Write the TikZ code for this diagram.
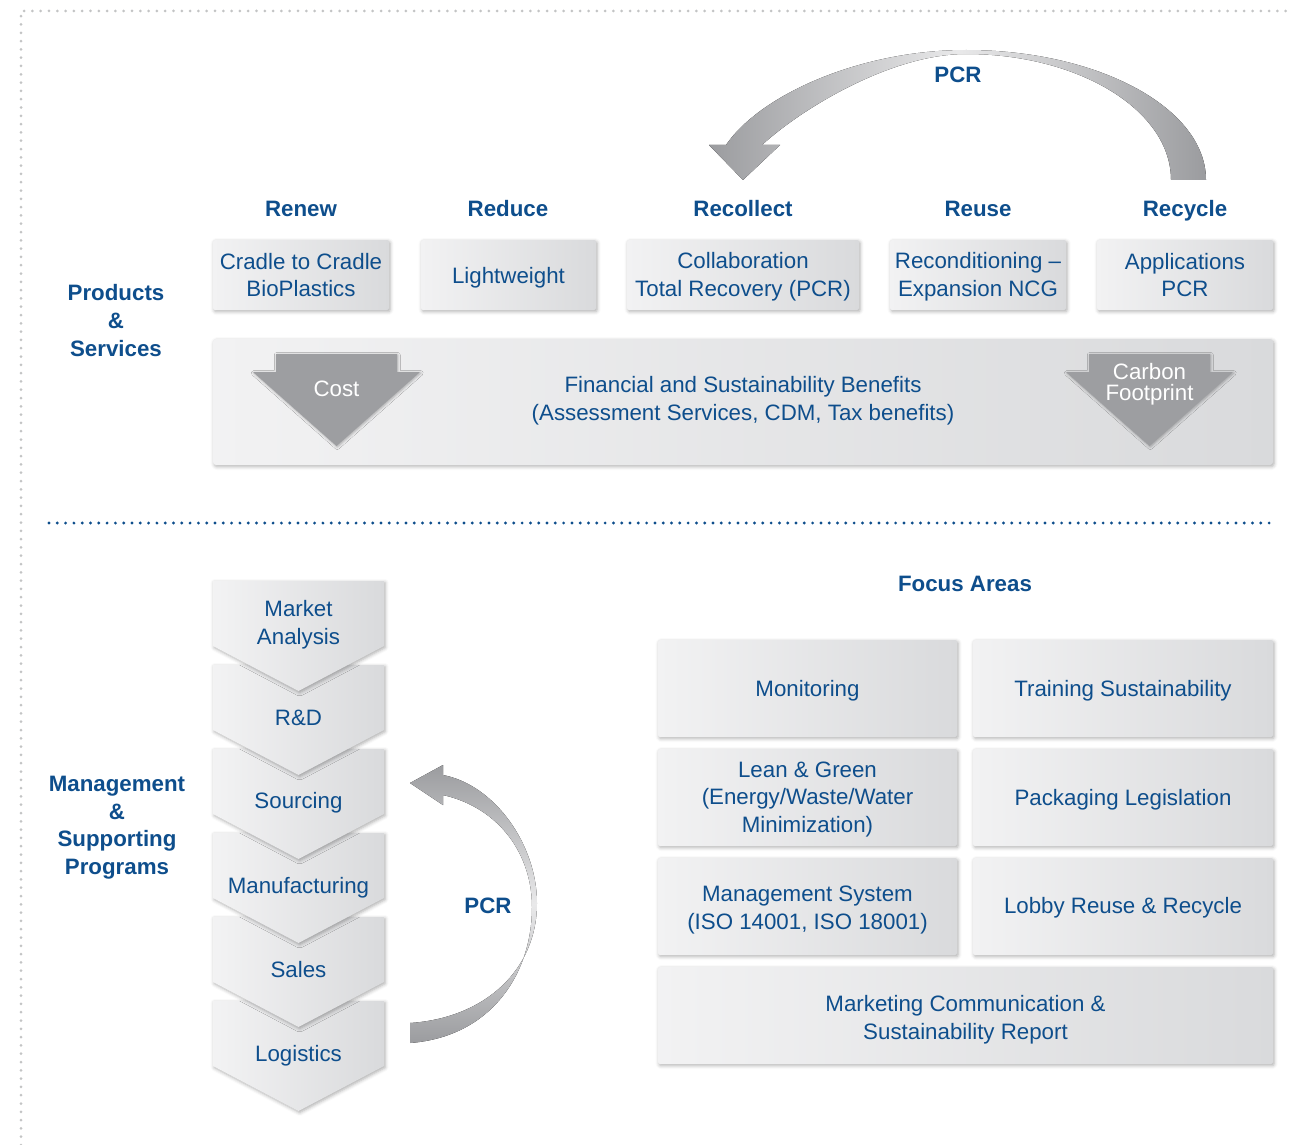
\documentclass[tikz,border=0pt]{standalone}
\usepackage{fontspec}
\setmainfont{Liberation Sans}
\usetikzlibrary{shadows.blur}

\definecolor{txt}{HTML}{0E4E8C}
\definecolor{boxL}{HTML}{F2F2F3}
\definecolor{boxR}{HTML}{D9DADC}
\definecolor{arrowgray}{HTML}{9D9EA1}
\definecolor{framegray}{HTML}{C3C4C5}
\definecolor{arcD}{HTML}{9B9C9F}
\definecolor{arcL}{HTML}{E9E9EA}

% light-dark-light sweeps for the curved PCR arrows
\pgfdeclarehorizontalshading{arcH}{100bp}{color(0bp)=(arcD); color(25bp)=(arcD); color(50bp)=(arcL); color(75bp)=(arcD); color(100bp)=(arcD)}
\pgfdeclareverticalshading{arcV}{100bp}{color(0bp)=(arcD); color(25bp)=(arcD); color(50bp)=(arcL); color(75bp)=(arcD); color(100bp)=(arcD)}

\tikzset{
  base/.style={font=\fontsize{22.3}{27.3}\selectfont},
  hdr/.style={font=\fontsize{22.3}{27.6}\selectfont\bfseries, text=txt, inner sep=0pt, align=center},
  lbl/.style={text=txt, inner sep=0pt, align=center, font=\fontsize{22.3}{27.6}\selectfont},
  oneline/.style={text height=16pt, text depth=0pt},
  softshadow/.style={blur shadow={shadow xshift=1.2pt, shadow yshift=-1.6pt, shadow blur radius=3.5pt, shadow opacity=32}},
  panel/.style={left color=boxL, right color=boxR, rounded corners=2pt, softshadow, draw=none},
  topbox/.style={panel, minimum height=70pt, inner sep=0pt},
  focusbox/.style={panel, minimum height=97pt, inner sep=0pt},
  chev/.style={left color=boxL!96!white, right color=boxR, softshadow},
  downarrow/.style={fill=arrowgray, blur shadow={shadow xshift=0.8pt, shadow yshift=-1pt, shadow blur radius=2.5pt, shadow opacity=30}},
  whitetxt/.style={text=white, inner sep=0pt, align=center},
  graydots/.style={draw=framegray, line width=3pt, line cap=round, dash pattern=on 0pt off 8.3pt},
  bluedots/.style={draw=txt, line width=3.2pt, line cap=round, dash pattern=on 0pt off 8.3pt}
}

\begin{document}
\begin{tikzpicture}[x=1pt, y=-1pt, base]
\useasboundingbox (0,0) rectangle (1291,1145);

% outer frame and section divider
\draw[graydots] (21,1145) -- (21,11) -- (1291,11);
\draw[bluedots] (49,523) -- (1273,523);

% ---------- Products & Services ----------
\node[hdr] (prodlabel) at (116,320.5) {Products\\\&\\Services};

% curved PCR arrow from Recycle back to Recollect
\fill[shading=arcH] (743,180) -- (709,145) -- (726,145)
  .. controls (760,95) and (860,50) .. (966,50)
  .. controls (1098.5,50) and (1206,108) .. (1206,180)
  -- (1171,180)
  .. controls (1171,110.4) and (1079.2,54) .. (966,54)
  .. controls (890,54) and (800,110) .. (762,145)
  -- (780,145) -- cycle;
\node[hdr, oneline] (pcrtop) at (958,75) {PCR};

\node[hdr, oneline] (hrenew)     at (301,208)  {Renew};
\node[hdr, oneline] (hreduce)    at (508,208)  {Reduce};
\node[hdr, oneline] (hrecollect) at (743,208)  {Recollect};
\node[hdr, oneline] (hreuse)     at (978,208)  {Reuse};
\node[hdr, oneline] (hrecycle)   at (1185,208) {Recycle};

\node[topbox, minimum width=176pt] (brenew)     at (301,275)   {};
\node[topbox, minimum width=175pt] (breduce)    at (508.5,275) {};
\node[topbox, minimum width=232pt] (brecollect) at (743,275)   {};
\node[topbox, minimum width=176pt] (breuse)     at (978,275)   {};
\node[topbox, minimum width=176pt] (brecycle)   at (1185,275)  {};

\node[lbl] (trenew)     at (301,275)     {Cradle to Cradle\\BioPlastics};
\node[lbl, oneline] (treduce) at (508.5,275) {Lightweight};
\node[lbl] (trecollect) at (743,277)   {Collaboration\\Total Recovery (PCR)};
\node[lbl] (treuse)     at (978,277)   {Reconditioning --\\Expansion NCG};
\node[lbl] (trecycle)   at (1185,275)  {Applications\\PCR};

% benefits band
\node[panel, rounded corners=3pt, minimum width=1060pt, minimum height=126pt, inner sep=0pt] (benefitbox) at (743,402) {};
\node[lbl] (benefits) at (743,400.5) {Financial and Sustainability Benefits\\(Assessment Services, CDM, Tax benefits)};

\fill[downarrow] (276,354) -- (397,354) -- (397,372) -- (420,372) -- (336.5,446) -- (253,372) -- (276,372) -- cycle;
\node[whitetxt, oneline] (cost) at (336.5,388) {Cost};

\fill[downarrow] (1089,354) -- (1210,354) -- (1210,372) -- (1233,372) -- (1149.5,446) -- (1066,372) -- (1089,372) -- cycle;
\node[whitetxt, font=\fontsize{22.3}{21}\selectfont] (carbon) at (1149.5,384.5) {Carbon\\Footprint};

% ---------- Management & Supporting Programs ----------
\node[hdr] (mgmtlabel) at (117,827.5) {Management\\\&\\Supporting\\Programs};

% process chevrons, lowest first so each point overlaps the next step
\foreach \t in {1001,917,833,749,665,581} {
  \path[chev] (213,\t) -- (384,\t) -- (384,\t+65) -- (298.5,\t+110) -- (213,\t+65) -- cycle;
}
\node[lbl] (market)          at (298.5,624.5) {Market\\Analysis};
\node[lbl, oneline] (rnd)    at (298.5,717)  {R\&D};
\node[lbl, oneline] (source) at (298.5,800)  {Sourcing};
\node[lbl, oneline] (manuf)  at (298.5,885)  {Manufacturing};
\node[lbl, oneline] (sales)  at (298.5,969)  {Sales};
\node[lbl, oneline] (logist) at (298.5,1053) {Logistics};

% curved PCR arrow from Logistics back to Sourcing
\fill[shading=arcV] (410,783) -- (443,765) -- (443,775)
  .. controls (495,785) and (537,845) .. (537,903)
  .. controls (537,970) and (485,1018) .. (410,1023)
  -- (410,1043)
  .. controls (490,1037) and (532,975) .. (532,907)
  .. controls (532,855) and (500,808) .. (443,795)
  -- (443,805) -- cycle;
\node[hdr, oneline] (pcrbottom) at (488,905) {PCR};

% focus areas
\node[hdr, oneline] (focus) at (965,583) {Focus Areas};

\node[focusbox, minimum width=299pt] (fmon)   at (807.5,688.5) {};
\node[focusbox, minimum width=300pt] (ftrain) at (1123,688.5)  {};
\node[focusbox, minimum width=299pt] (flean)  at (807.5,797.5) {};
\node[focusbox, minimum width=300pt] (fpack)  at (1123,797.5)  {};
\node[focusbox, minimum width=299pt] (fms)    at (807.5,906.5) {};
\node[focusbox, minimum width=300pt] (flobby) at (1123,906.5)  {};
\node[focusbox, minimum width=615pt] (fmkt)   at (965.5,1015.5) {};

\node[lbl, oneline] (tmon)   at (807.5,688) {Monitoring};
\node[lbl, oneline] (ttrain) at (1123,688)  {Training Sustainability};
\node[lbl] (tlean)  at (807.5,799.5) {Lean \& Green\\(Energy/Waste/Water\\Minimization)};
\node[lbl, oneline] (tpack)  at (1123,797) {Packaging Legislation};
\node[lbl] (tms)    at (807.5,910) {Management System\\(ISO 14001, ISO 18001)};
\node[lbl, oneline] (tlobby) at (1123,905)  {Lobby Reuse \& Recycle};
\node[lbl] (tmkt)   at (965.5,1020) {Marketing Communication \&\\Sustainability Report};

\end{tikzpicture}
\end{document}
